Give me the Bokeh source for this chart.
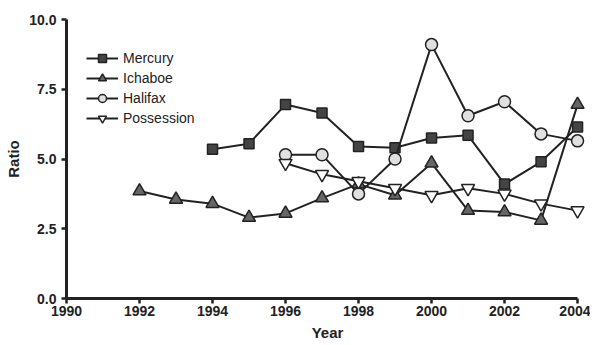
from bokeh.plotting import figure
from bokeh.models import Range1d, FixedTicker, Legend, LegendItem, CustomJSTickFormatter
from bokeh.embed import file_html
from bokeh.resources import INLINE

mercury_years = [1994, 1995, 1996, 1997, 1998, 1999, 2000, 2001, 2002, 2003, 2004]
mercury = [5.35, 5.55, 6.95, 6.65, 5.45, 5.4, 5.75, 5.85, 4.1, 4.9, 6.15]

ichaboe_years = [1992, 1993, 1994, 1995, 1996, 1997, 1998, 1999, 2000, 2001, 2002, 2003, 2004]
ichaboe = [3.85, 3.55, 3.4, 2.9, 3.05, 3.6, 4.1, 3.7, 4.85, 3.15, 3.1, 2.8, 6.95]

halifax_years = [1996, 1997, 1998, 1999, 2000, 2001, 2002, 2003, 2004]
halifax = [5.15, 5.15, 3.75, 5.0, 9.1, 6.55, 7.05, 5.9, 5.65]

possession_years = [1996, 1997, 1998, 1999, 2000, 2001, 2002, 2003, 2004]
possession = [4.85, 4.45, 4.2, 3.95, 3.7, 3.95, 3.75, 3.4, 3.15]

x_ticks = [1990, 1992, 1994, 1996, 1998, 2000, 2002, 2004]
y_ticks = [0.0, 2.5, 5.0, 7.5, 10.0]

p = figure(frame_width=522, frame_height=279, output_backend="svg", toolbar_location=None,
           x_range=Range1d(1990, 2004.3), y_range=Range1d(0, 10))
p.min_border_left = 66
p.min_border_right = 2
p.min_border_top = 19
p.min_border_bottom = 36
p.outline_line_color = None
p.grid.visible = False

FONT = "Liberation Sans"
DARK = "#222222"

for ax in (p.xaxis[0], p.yaxis[0]):
    ax.axis_line_width = 3
    ax.axis_line_color = DARK
    ax.major_tick_line_width = 2.5
    ax.major_tick_line_color = DARK
    ax.major_tick_out = 5
    ax.major_tick_in = 0
    ax.minor_tick_line_color = None
    ax.major_label_text_font = FONT
    ax.major_label_text_font_style = "bold"
    ax.major_label_text_font_size = "14px"
    ax.major_label_text_color = DARK
    ax.axis_label_text_font = FONT
    ax.axis_label_text_font_style = "bold"
    ax.axis_label_text_font_size = "15px"
    ax.axis_label_text_color = DARK

p.xaxis.ticker = FixedTicker(ticks=x_ticks)
p.yaxis.ticker = FixedTicker(ticks=y_ticks)
p.xaxis.bounds = (1990, 2004)
p.yaxis.bounds = (0, 10)
p.xaxis.axis_label = "Year"
p.yaxis.axis_label = "Ratio"
p.xaxis.major_label_standoff = 2
p.xaxis.axis_label_standoff = 5
p.yaxis.major_label_standoff = 5
p.yaxis.axis_label_standoff = 4
p.yaxis.formatter = CustomJSTickFormatter(code="return tick.toFixed(1);")

series = [
    ("Mercury", mercury_years, mercury, "square", "#444444", 10),
    ("Ichaboe", ichaboe_years, ichaboe, "triangle", "#666666", 13),
    ("Halifax", halifax_years, halifax, "circle", "#e0e0e0", 12),
    ("Possession", possession_years, possession, "inverted_triangle", "#ffffff", 13),
]

items = []
for name, xs, ys, marker, fill, size in series:
    l = p.line(xs, ys, line_color=DARK, line_width=2)
    m = p.scatter(xs, ys, marker=marker, size=size, fill_color=fill,
                  line_color=DARK, line_width=1.5)
    items.append(LegendItem(label=name, renderers=[l, m]))

legend = Legend(items=items, location=(20, 170))
legend.padding = 0
legend.spacing = 0
legend.margin = 0
legend.glyph_width = 32
legend.glyph_height = 20
legend.label_height = 20
legend.label_standoff = 5
legend.label_text_font = FONT
legend.label_text_font_size = "14px"
legend.label_text_color = DARK
legend.border_line_color = None
legend.background_fill_alpha = 0
p.add_layout(legend)

open("out.html", "w").write(file_html(p, INLINE))
